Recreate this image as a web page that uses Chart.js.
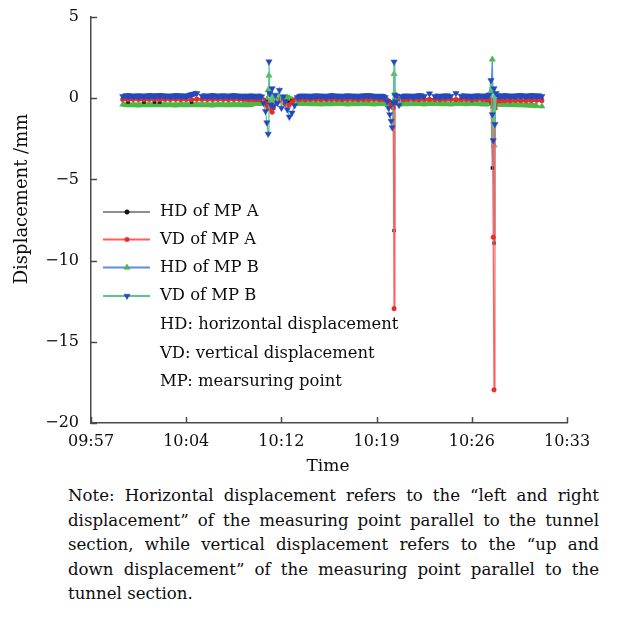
<!DOCTYPE html>
<html><head><meta charset="utf-8">
<script src="https://cdn.jsdelivr.net/npm/chart.js@4/dist/chart.umd.min.js"></script>
<style>
html,body{margin:0;padding:0;background:#fff;}
#wrap{position:relative;width:631px;height:620px;overflow:hidden;}
#c{position:absolute;left:0;top:0;}
#note{position:absolute;left:68px;top:484px;width:531px;font-family:"DejaVu Serif",serif;font-size:16.6px;line-height:24.5px;color:#0d0d0d;}
#note div{white-space:nowrap;text-align:justify;text-align-last:justify;}
#note div.last{text-align-last:left;}
</style></head>
<body><div id="wrap"><canvas id="c" width="631" height="480"></canvas>
<div id="note">
<div>Note: Horizontal displacement refers to the “left and right</div>
<div>displacement” of the measuring point parallel to the tunnel</div>
<div>section, while vertical displacement refers to the “up and</div>
<div>down displacement” of the measuring point parallel to the</div>
<div class="last">tunnel section.</div>
</div></div>
<script>
// tick labels on the time axis (minutes from 09:57, 7.2 min apart)
const timeLabels = ["09:57","10:04","10:12","10:19","10:26","10:33"];
const tickStep = 7.2;
const yTicks = [5,0,-5,-10,-15,-20];
const seriesNames = ["HD of MP A","VD of MP A","HD of MP B","VD of MP B"];
const noteLines = ["HD: horizontal displacement","VD: vertical displacement","MP: mearsuring point"];

// sample times (minutes after 09:57)
const times = [
2.4,2.8,3.2,3.6,4.0,4.4,4.8,5.2,5.6,6.0,6.4,6.8,7.2,7.6,8.0,8.4,8.8,9.2,9.6,10.0,10.4,10.8,11.2,
11.5,11.7,11.9,12.1,12.3,12.5,12.7,12.9,13.05,13.2,13.3,13.4,13.46,13.52,13.6,13.7,13.8,13.95,14.1,14.25,14.4,14.55,14.7,14.85,15.0,15.2,15.4,15.6,15.8,
16.2,16.6,17.0,17.4,17.8,18.2,18.6,19.0,19.4,19.8,20.2,20.6,21.0,21.4,21.8,
22.1,22.25,22.4,22.5,22.6,22.7,22.78,22.86,22.92,22.98,23.05,23.15,23.3,23.5,23.7,
24.0,24.4,24.8,25.2,25.6,26.0,26.4,26.8,27.2,27.6,28.0,28.4,28.8,29.2,29.6,
29.9,30.1,30.25,30.35,30.42,30.48,30.55,30.65,30.8,31.0,
31.3,31.7,32.1,32.5,32.9,33.3,33.7,34.1
];

// HD of MP A (mm)
const hdA = [
-0.06,-0.24,-0.05,-0.07,-0.24,-0.06,-0.24,-0.24,-0.05,-0.06,-0.07,-0.05,-0.06,-0.24,-0.05,-0.06,-0.07,-0.05,-0.06,-0.05,-0.07,-0.06,-0.05,
-0.06,-0.05,-0.07,-0.06,-0.05,-0.06,-0.05,-0.07,-0.1,-0.2,-0.3,-0.4,-0.2,-0.3,-0.5,-0.6,-0.4,-0.2,-0.1,-0.05,-0.1,-0.15,-0.2,-0.3,-0.25,-0.15,-0.1,-0.06,-0.05,
-0.06,-0.05,-0.07,-0.06,-0.05,-0.06,-0.07,-0.05,-0.06,-0.05,-0.07,-0.06,-0.05,-0.06,-0.07,
-0.06,-0.07,-0.1,-0.15,-0.2,-0.3,-0.4,-0.5,-8.15,-0.3,-0.1,-0.07,-0.06,-0.05,-0.06,
-0.06,-0.05,-0.07,-0.06,-0.05,-0.07,-0.06,-0.05,-0.06,-0.07,-0.05,-0.06,-0.14,-0.07,-0.06,
-0.1,-0.08,-0.2,-4.3,-0.5,-8.93,-0.4,-0.1,-0.08,-0.07,
-0.07,-0.06,-0.08,-0.06,-0.07,-0.08,-0.06,-0.07
];
// VD of MP A (mm)
const vdA = [
-0.08,-0.09,-0.07,-0.08,-0.09,-0.08,-0.07,-0.09,-0.08,-0.08,-0.07,-0.09,-0.08,-0.09,-0.07,-0.08,-0.08,-0.09,-0.07,-0.08,-0.09,-0.08,-0.07,
-0.08,-0.07,-0.09,-0.08,-0.08,-0.09,-0.08,-0.09,-0.1,-0.3,-0.45,-0.6,-0.3,-0.5,-0.7,-0.86,-0.6,-0.3,-0.2,-0.1,-0.15,-0.25,-0.35,-0.45,-0.4,-0.25,-0.1,-0.08,-0.08,
-0.09,-0.08,-0.07,-0.09,-0.08,-0.08,-0.07,-0.09,-0.08,-0.07,-0.09,-0.08,-0.08,-0.07,-0.09,
-0.08,-0.09,-0.1,-0.2,-0.3,-0.4,-0.5,-0.6,-12.96,-0.3,-0.1,-0.09,-0.08,-0.08,-0.09,
-0.08,-0.07,-0.09,-0.08,-0.08,-0.07,-0.09,-0.08,-0.07,-0.09,-0.08,-0.08,-0.09,-0.07,-0.08,
-0.09,-0.08,-0.1,-0.3,-8.56,-17.96,-0.6,-0.2,-0.15,-0.15,
-0.15,-0.16,-0.14,-0.15,-0.16,-0.15,-0.14,-0.15
];
// HD of MP B (mm)
const hdB = [
-0.39,-0.41,-0.4,-0.42,-0.39,-0.41,-0.4,-0.39,-0.41,-0.4,-0.42,-0.39,-0.41,-0.4,-0.39,-0.41,-0.4,-0.42,-0.39,-0.4,-0.41,-0.39,-0.4,
-0.4,-0.41,-0.39,-0.4,-0.33,-0.31,-0.33,-0.31,-0.28,-0.3,-0.1,0.5,1.4,0.2,-0.1,0.1,-0.2,0.0,-0.15,0.05,-0.1,0.0,-0.1,0.05,0.0,-0.1,-0.2,-0.3,-0.32,
-0.32,-0.34,-0.33,-0.35,-0.32,-0.34,-0.33,-0.32,-0.35,-0.33,-0.34,-0.32,-0.33,-0.35,-0.33,
-0.33,-0.34,-0.33,-0.35,-0.38,-0.4,-0.5,-0.2,1.5,0.3,-0.1,-0.3,-0.33,-0.35,-0.33,
-0.34,-0.32,-0.33,-0.35,-0.33,-0.32,-0.34,-0.33,-0.35,-0.32,-0.33,-0.34,-0.32,-0.33,-0.35,
-0.34,-0.35,0.4,2.39,-0.5,-2.9,-0.6,-0.38,-0.37,-0.38,
-0.38,-0.39,-0.4,-0.41,-0.42,-0.44,-0.47,-0.5
];
// VD of MP B (mm)
const vdB = [
0.12,0.14,0.12,0.13,0.12,0.14,0.13,0.15,0.13,0.12,0.14,0.13,0.12,0.22,0.3,0.14,0.12,0.14,0.12,0.13,0.12,0.14,0.12,
0.1,0.12,0.1,0.13,0.11,0.1,0.12,0.1,-0.3,-0.8,-1.5,-2.2,2.25,0.3,-0.4,0.6,-0.5,0.2,-0.3,0.5,-0.6,0.1,-0.2,-0.7,-1.15,-0.9,-0.45,0.05,0.12,
0.12,0.1,0.13,0.12,0.1,0.14,0.12,0.1,0.13,0.12,0.1,0.13,0.15,0.12,0.1,
0.1,0.05,-0.2,-0.6,-1.0,-1.4,-1.8,-0.3,2.24,0.2,-0.2,0.15,-0.43,0.1,0.12,
0.12,0.1,0.14,0.12,0.28,0.12,0.1,0.13,0.12,0.3,0.14,0.12,0.1,0.13,0.12,
0.12,0.2,1.1,-1.0,-2.6,0.6,-1.6,0.3,0.15,0.12,
0.14,0.12,0.13,0.15,0.12,0.14,0.13,0.12
];

const pts = v => times.map((t,i)=>({x:t,y:v[i]}));
const FONT = '"DejaVu Serif", serif';

// quiet stretches are drawn as a dense band in the marker colour
const flat = c => Math.abs(c.p0.parsed.y) < 0.5 && Math.abs(c.p1.parsed.y) < 0.5 && Math.abs(c.p1.parsed.y - c.p0.parsed.y) < 0.15;
const seg = (mk, ln, w) => ({borderColor: c => flat(c) ? mk : ln, borderWidth: c => flat(c) ? w : 1.2});

const datasets = [
 {label:seriesNames[0], data:pts(hdA), borderColor:'#8e8e8e', borderWidth:1.2, segment:seg('#8e8e8e','#8e8e8e',1.5), pointStyle:'rect', pointRadius:2, pointBackgroundColor:'#151515', pointBorderColor:'#151515', pointBorderWidth:0.5, order:2},
 {label:seriesNames[1], data:pts(vdA), borderColor:'#ff5c5c', borderWidth:1.2, segment:seg('#e8362f','#ff5c5c',2.6), pointStyle:'circle', pointRadius:2.3, pointBackgroundColor:'#e82a2a', pointBorderColor:'#e82a2a', pointBorderWidth:0.5, order:1},
 {label:seriesNames[2], data:pts(hdB), borderColor:'#5b8fe0', borderWidth:1.2, segment:seg('#4fbb45','#5b8fe0',5),  pointStyle:'triangle', pointRadius:3.6, pointBackgroundColor:'#4cb848', pointBorderColor:'#4cb848', pointBorderWidth:0.5, order:3},
 {label:seriesNames[3], data:pts(vdB), borderColor:'#5cc48c', borderWidth:1.2, segment:seg('#2a4cc0','#5cc48c',5.6), pointStyle:'triangle', pointRotation:180, pointRadius:3.6, pointBackgroundColor:'#2448bc', pointBorderColor:'#2448bc', pointBorderWidth:0.5, order:0}
];

const deco = {
 id:'deco',
 afterDraw(chart){
  const {ctx, chartArea:a, scales:{x,y}} = chart;
  ctx.save();
  ctx.strokeStyle='#4a4a4a'; ctx.lineWidth=1.5;
  x.ticks.forEach(t=>{const p=Math.round(x.getPixelForValue(t.value))+0.5; ctx.beginPath(); ctx.moveTo(p,a.bottom); ctx.lineTo(p,a.bottom-6); ctx.stroke();});
  y.ticks.forEach(t=>{const p=Math.round(y.getPixelForValue(t.value))+0.5; ctx.beginPath(); ctx.moveTo(a.left,p); ctx.lineTo(a.left+6,p); ctx.stroke();});
  ctx.fillStyle='#0d0d0d';
  ctx.font='17px '+FONT; ctx.textAlign='center'; ctx.textBaseline='middle';
  ctx.fillText('Time', 328, 467);
  ctx.font='18px '+FONT;
  ctx.save(); ctx.translate(22,199); ctx.rotate(-Math.PI/2); ctx.fillText('Displacement /mm',0,0); ctx.restore();
  // legend
  const rowY=[212,239.5,267.5,296], x0=103, x1=150, mx=127, tx=160;
  ctx.textAlign='left'; ctx.font='16.4px '+FONT;
  datasets.forEach((d,i)=>{
    ctx.strokeStyle=d.borderColor; ctx.lineWidth=1.8;
    ctx.beginPath(); ctx.moveTo(x0,rowY[i]); ctx.lineTo(x1,rowY[i]); ctx.stroke();
    ctx.fillStyle=d.pointBackgroundColor; ctx.strokeStyle=d.pointBackgroundColor; ctx.lineWidth=0.5;
    Chart.helpers.drawPoint(ctx,{pointStyle:d.pointStyle==='rect'?'circle':d.pointStyle,rotation:d.pointRotation||0,radius:d.pointStyle==='triangle'?3.6:2.3,borderWidth:0.5},mx,rowY[i]);
    ctx.fillStyle='#0d0d0d'; ctx.fillText(d.label,tx,rowY[i]);
  });
  noteLines.forEach((s,i)=>ctx.fillText(s,tx,325+i*28.3));
  ctx.restore();
 }
};

new Chart(document.getElementById('c'),{
 type:'line',
 data:{datasets},
 options:{
  responsive:false, animation:false, devicePixelRatio:1,
  layout:{padding:{left:0,top:17,right:64,bottom:0}},
  plugins:{legend:{display:false},tooltip:{enabled:false}},
  elements:{line:{tension:0}},
  scales:{
   x:{type:'linear',min:0,max:tickStep*(timeLabels.length-1),
      grid:{display:false,drawTicks:false,tickLength:0},border:{display:true,color:'#4a4a4a',width:1.5},
      afterBuildTicks:s=>{s.ticks=timeLabels.map((_,i)=>({value:i*tickStep}));},
      ticks:{padding:9,color:'#0d0d0d',font:{family:FONT,size:16},maxRotation:0,autoSkip:false,
        callback:v=>timeLabels[Math.round(v/tickStep)]},
      afterFit:s=>{s.height=57;s.paddingLeft=0;s.paddingRight=0;}},
   y:{min:-20,max:5,
      grid:{display:false,drawTicks:false,tickLength:0},border:{display:true,color:'#4a4a4a',width:1.5},
      afterBuildTicks:s=>{s.ticks=yTicks.map(v=>({value:v}));},
      ticks:{padding:12,color:'#0d0d0d',font:{family:FONT,size:16},
        callback:v=>v<0?'\u2212'+Math.abs(v):String(v)},
      afterFit:s=>{s.width=91;s.paddingTop=0;s.paddingBottom=0;}}
  }
 },
 plugins:[deco]
});
</script></body></html>
